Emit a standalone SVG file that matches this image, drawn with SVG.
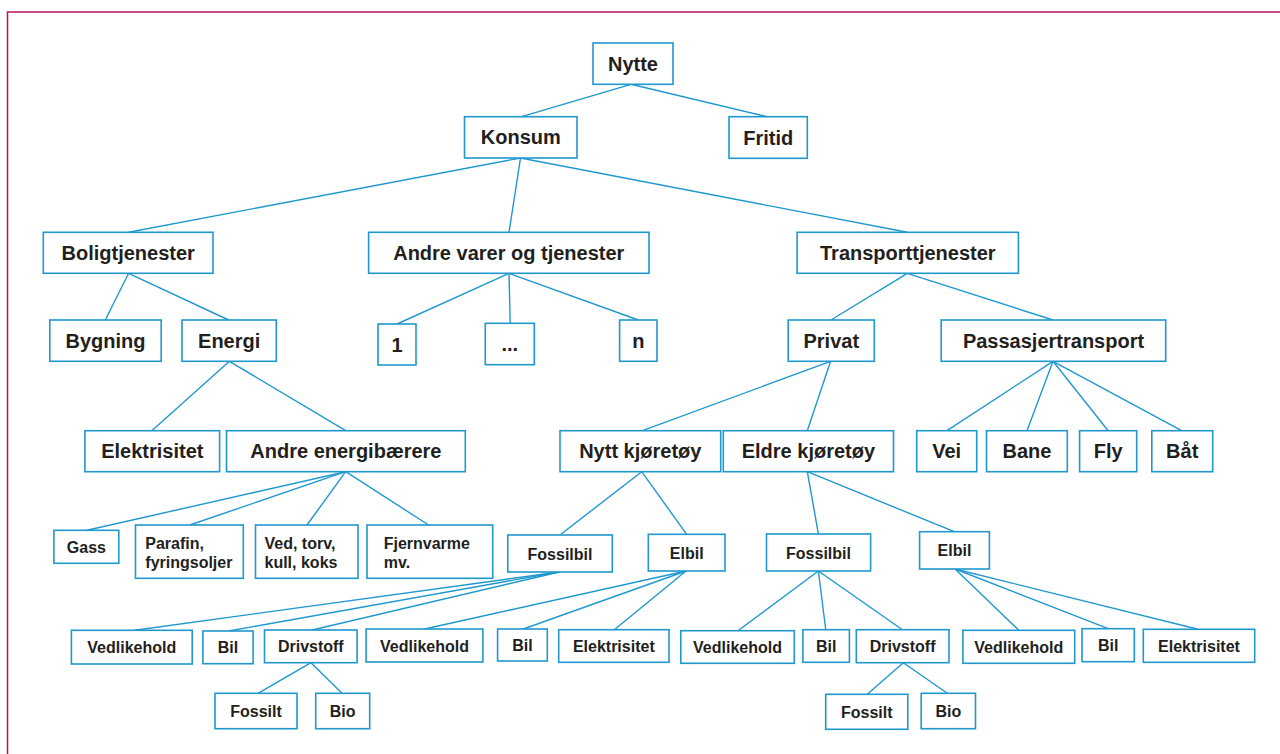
<svg xmlns="http://www.w3.org/2000/svg" width="1280" height="754" viewBox="0 0 1280 754">
<style>
.b{fill:#fff;stroke:#1f98cf;stroke-width:1.6}
.c line{stroke:#1f98cf;stroke-width:1.4}
.t{font-family:"Liberation Sans",Arial,sans-serif;font-weight:bold;font-size:20px;fill:#231f20;text-anchor:middle}
.s{font-family:"Liberation Sans",Arial,sans-serif;font-weight:bold;font-size:16px;fill:#231f20;text-anchor:middle}
.l{text-anchor:start}
</style>
<rect width="1280" height="754" fill="#fff"/>
<path d="M7.5,754 V12 H1280" fill="none" stroke="#b5135f" stroke-width="1.5"/>
<g id="connectors" class="c">
<line x1="631" y1="84.3" x2="521.6" y2="116.7"/>
<line x1="631" y1="84.3" x2="767.3" y2="116.7"/>
<line x1="520.5" y1="158" x2="128.6" y2="232.3"/>
<line x1="520.5" y1="158" x2="509" y2="232.3"/>
<line x1="520.5" y1="158" x2="907.3" y2="232.3"/>
<line x1="128.6" y1="273.3" x2="105.3" y2="320"/>
<line x1="128.6" y1="273.3" x2="228.6" y2="320"/>
<line x1="509" y1="273.3" x2="397" y2="324"/>
<line x1="509" y1="273.3" x2="510.2" y2="323.3"/>
<line x1="509" y1="273.3" x2="638.3" y2="320"/>
<line x1="907.3" y1="273.3" x2="831" y2="320"/>
<line x1="907.3" y1="273.3" x2="1053" y2="320"/>
<line x1="229.4" y1="361.3" x2="151.8" y2="430.7"/>
<line x1="229.4" y1="361.3" x2="345.7" y2="430.7"/>
<line x1="830.6" y1="361.3" x2="642.5" y2="430.7"/>
<line x1="830.6" y1="361.3" x2="807.3" y2="430.7"/>
<line x1="1053" y1="361.3" x2="947" y2="430.7"/>
<line x1="1053" y1="361.3" x2="1027" y2="430.7"/>
<line x1="1053" y1="361.3" x2="1108.2" y2="430.7"/>
<line x1="1053" y1="361.3" x2="1181.6" y2="430.7"/>
<line x1="345.7" y1="471.7" x2="87" y2="530.3"/>
<line x1="345.7" y1="471.7" x2="189.8" y2="525"/>
<line x1="345.7" y1="471.7" x2="307" y2="525"/>
<line x1="345.7" y1="471.7" x2="428.6" y2="525"/>
<line x1="641.7" y1="471.7" x2="560" y2="535"/>
<line x1="641.7" y1="471.7" x2="686.7" y2="534.3"/>
<line x1="807.3" y1="471.7" x2="818.4" y2="534"/>
<line x1="807.3" y1="471.7" x2="954.3" y2="531.7"/>
<line x1="559.2" y1="572" x2="134.7" y2="630.3"/>
<line x1="559.2" y1="572" x2="228.6" y2="631"/>
<line x1="559.2" y1="572" x2="312.2" y2="630"/>
<line x1="686" y1="571" x2="424.5" y2="629"/>
<line x1="686" y1="571" x2="523.3" y2="629"/>
<line x1="686" y1="571" x2="614.3" y2="629.7"/>
<line x1="818.4" y1="571" x2="738" y2="630.7"/>
<line x1="818.4" y1="571" x2="825.7" y2="629.7"/>
<line x1="818.4" y1="571" x2="902.4" y2="629.7"/>
<line x1="955.1" y1="569" x2="1018.8" y2="630.3"/>
<line x1="955.1" y1="569" x2="1108.2" y2="628.7"/>
<line x1="955.1" y1="569" x2="1198" y2="629.3"/>
<line x1="311" y1="662.7" x2="258" y2="693.3"/>
<line x1="311" y1="662.7" x2="342" y2="693.3"/>
<line x1="903.3" y1="662.7" x2="867.3" y2="694.3"/>
<line x1="903.3" y1="662.7" x2="947.3" y2="693.3"/>
</g>
<g id="nytte"><rect class="b" x="593" y="43" width="80" height="41.3"/><text class="t" x="633" y="70.7">Nytte</text></g>
<g id="konsum"><rect class="b" x="464.5" y="116.7" width="112.5" height="41.3"/><text class="t" x="520.8" y="144.3">Konsum</text></g>
<g id="fritid"><rect class="b" x="729" y="116.7" width="78.3" height="41.6"/><text class="t" x="768.2" y="144.5">Fritid</text></g>
<g id="boligtjenester"><rect class="b" x="43.3" y="232.3" width="169.7" height="41"/><text class="t" x="128.2" y="259.8">Boligtjenester</text></g>
<g id="andre-varer"><rect class="b" x="368.6" y="232.3" width="280.4" height="41"/><text class="t" x="508.8" y="259.8">Andre varer og tjenester</text></g>
<g id="transporttjenester"><rect class="b" x="797.1" y="232.3" width="221.3" height="41"/><text class="t" x="907.8" y="259.8">Transporttjenester</text></g>
<g id="bygning"><rect class="b" x="49.8" y="320" width="111.4" height="41.3"/><text class="t" x="105.5" y="347.7">Bygning</text></g>
<g id="energi"><rect class="b" x="182" y="320" width="94.3" height="41.3"/><text class="t" x="229.2" y="347.7">Energi</text></g>
<g id="vare-1"><rect class="b" x="378" y="324" width="38" height="41"/><text class="t" x="397" y="351.5">1</text></g>
<g id="vare-dots"><rect class="b" x="485.3" y="323.3" width="49" height="41.4"/><text class="t" x="509.8" y="351">...</text></g>
<g id="vare-n"><rect class="b" x="619.6" y="320" width="37.4" height="41.3"/><text class="t" x="638.3" y="347.7">n</text></g>
<g id="privat"><rect class="b" x="788.2" y="320" width="86.1" height="41.3"/><text class="t" x="831.3" y="347.7">Privat</text></g>
<g id="passasjertransport"><rect class="b" x="941.2" y="320" width="224.5" height="41.3"/><text class="t" x="1053.5" y="347.7">Passasjertransport</text></g>
<g id="elektrisitet-bolig"><rect class="b" x="84.9" y="430.7" width="134.7" height="41"/><text class="t" x="152.3" y="458.2">Elektrisitet</text></g>
<g id="andre-energibaerere"><rect class="b" x="226.5" y="430.7" width="238.8" height="41"/><text class="t" x="345.9" y="458.2">Andre energibærere</text></g>
<g id="nytt-kjoretoy"><rect class="b" x="560" y="430.7" width="160.7" height="41"/><text class="t" x="640.3" y="458.2">Nytt kjøretøy</text></g>
<g id="eldre-kjoretoy"><rect class="b" x="723.3" y="430.7" width="170.2" height="41"/><text class="t" x="808.4" y="458.2">Eldre kjøretøy</text></g>
<g id="vei"><rect class="b" x="916.7" y="430.7" width="60" height="41"/><text class="t" x="946.7" y="458.2">Vei</text></g>
<g id="bane"><rect class="b" x="986.5" y="430.7" width="80.8" height="41"/><text class="t" x="1026.9" y="458.2">Bane</text></g>
<g id="fly"><rect class="b" x="1079.6" y="430.7" width="57.1" height="41"/><text class="t" x="1108.2" y="458.2">Fly</text></g>
<g id="bat"><rect class="b" x="1151.8" y="430.7" width="60.9" height="41"/><text class="t" x="1182.2" y="458.2">Båt</text></g>
<g id="gass"><rect class="b" x="53.9" y="530.3" width="64.9" height="33"/><text class="s" x="86.4" y="552.8">Gass</text></g>
<g id="parafin"><rect class="b" x="135.5" y="525" width="107.8" height="53.3"/><text class="s l" x="145.3" y="548.5">Parafin,</text><text class="s l" x="145.3" y="567.5">fyringsoljer</text></g>
<g id="ved"><rect class="b" x="255.5" y="525" width="102.5" height="53.3"/><text class="s l" x="264.5" y="548.5">Ved, torv,</text><text class="s l" x="264.5" y="567.5">kull, koks</text></g>
<g id="fjernvarme"><rect class="b" x="367" y="525" width="125.7" height="53.3"/><text class="s l" x="383.7" y="548.5">Fjernvarme</text><text class="s l" x="383.7" y="567.5">mv.</text></g>
<g id="fossilbil-nytt"><rect class="b" x="507.8" y="535" width="104.5" height="37"/><text class="s" x="560" y="559.5">Fossilbil</text></g>
<g id="elbil-nytt"><rect class="b" x="648.3" y="534.3" width="76.7" height="36.7"/><text class="s" x="686.7" y="558.7">Elbil</text></g>
<g id="fossilbil-eldre"><rect class="b" x="766.5" y="534" width="104.1" height="37"/><text class="s" x="818.5" y="558.5">Fossilbil</text></g>
<g id="elbil-eldre"><rect class="b" x="919.6" y="531.7" width="69.8" height="37.3"/><text class="s" x="954.5" y="556.3">Elbil</text></g>
<g id="vedlikehold-1"><rect class="b" x="71.4" y="630.3" width="120.8" height="33.7"/><text class="s" x="131.8" y="653.2">Vedlikehold</text></g>
<g id="bil-1"><rect class="b" x="202.9" y="631" width="50.2" height="32.7"/><text class="s" x="228" y="653.3">Bil</text></g>
<g id="drivstoff-1"><rect class="b" x="264.5" y="630" width="92.6" height="32.7"/><text class="s" x="310.8" y="652.3">Drivstoff</text></g>
<g id="vedlikehold-2"><rect class="b" x="366.1" y="629" width="116.8" height="33"/><text class="s" x="424.5" y="651.5">Vedlikehold</text></g>
<g id="bil-2"><rect class="b" x="497.6" y="629" width="49.7" height="32"/><text class="s" x="522.5" y="651">Bil</text></g>
<g id="elektrisitet-2"><rect class="b" x="558.7" y="629.7" width="110.3" height="32.6"/><text class="s" x="613.8" y="652">Elektrisitet</text></g>
<g id="vedlikehold-3"><rect class="b" x="680.8" y="630.7" width="113.5" height="32.6"/><text class="s" x="737.5" y="653">Vedlikehold</text></g>
<g id="bil-3"><rect class="b" x="802.9" y="629.7" width="46.5" height="32.6"/><text class="s" x="826.2" y="652">Bil</text></g>
<g id="drivstoff-2"><rect class="b" x="856.3" y="629.7" width="92.7" height="33"/><text class="s" x="902.6" y="652.2">Drivstoff</text></g>
<g id="vedlikehold-4"><rect class="b" x="962.9" y="630.3" width="111.8" height="33"/><text class="s" x="1018.8" y="652.8">Vedlikehold</text></g>
<g id="bil-4"><rect class="b" x="1082" y="628.7" width="52.3" height="33"/><text class="s" x="1108.2" y="651.2">Bil</text></g>
<g id="elektrisitet-4"><rect class="b" x="1143.3" y="629.3" width="111.4" height="33"/><text class="s" x="1199" y="651.8">Elektrisitet</text></g>
<g id="fossilt-1"><rect class="b" x="215" y="693.3" width="82" height="35.4"/><text class="s" x="256" y="717">Fossilt</text></g>
<g id="bio-1"><rect class="b" x="315.7" y="693.3" width="54" height="35.4"/><text class="s" x="342.7" y="717">Bio</text></g>
<g id="fossilt-2"><rect class="b" x="825.7" y="694.3" width="82.1" height="35"/><text class="s" x="866.8" y="717.8">Fossilt</text></g>
<g id="bio-2"><rect class="b" x="921.2" y="693.3" width="54.3" height="35.4"/><text class="s" x="948.3" y="717">Bio</text></g>
</svg>
